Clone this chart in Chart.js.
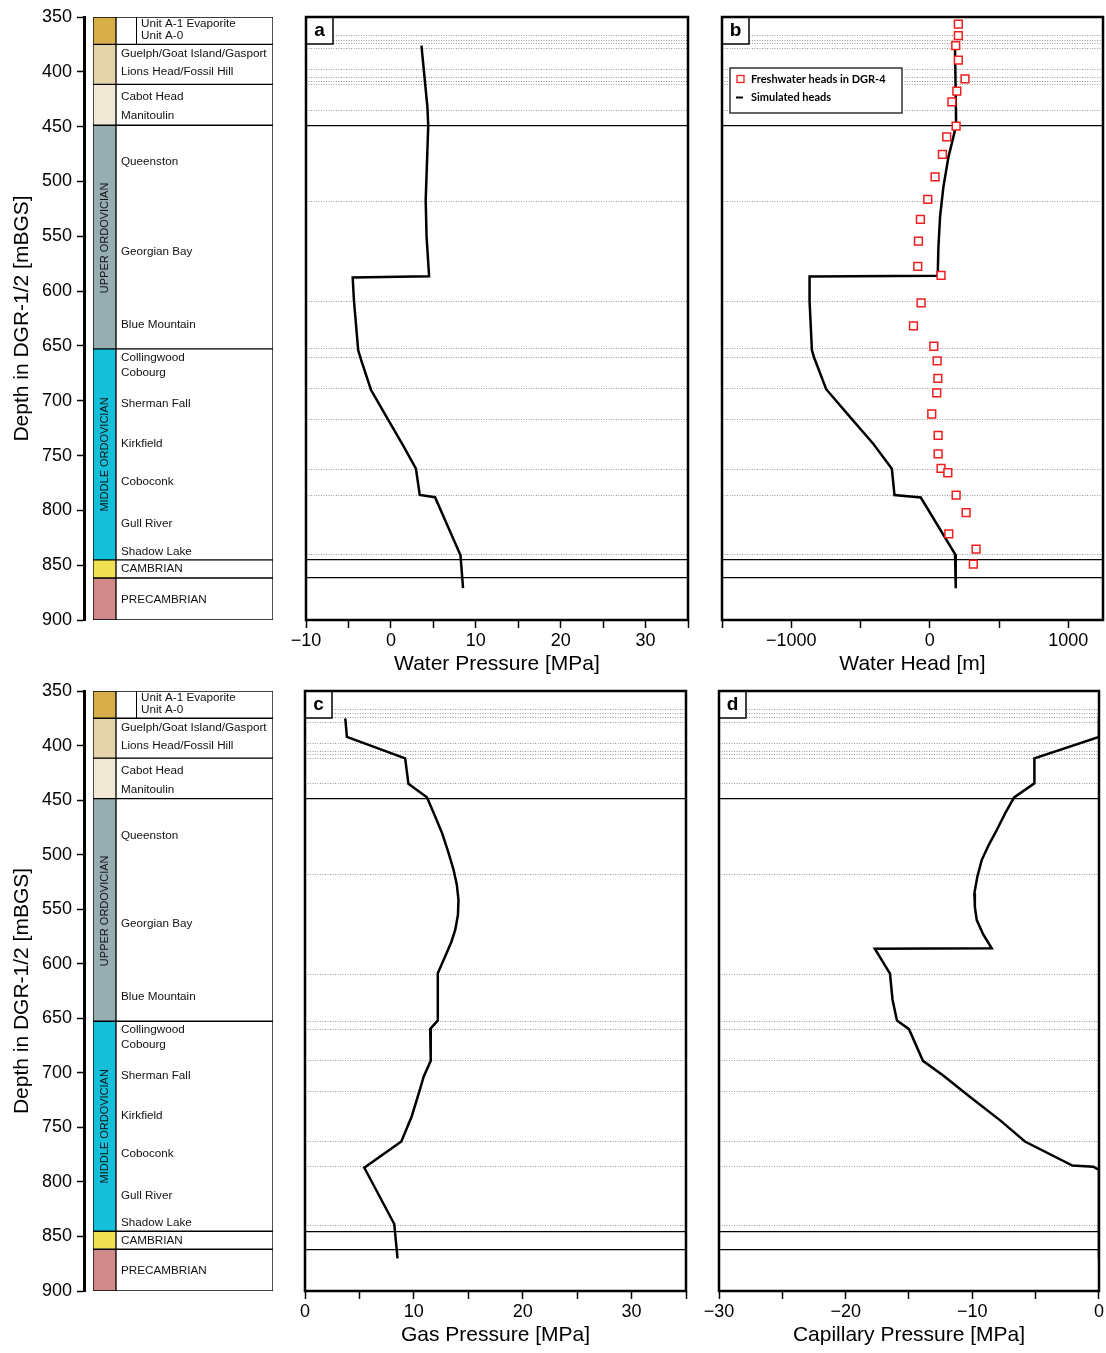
<!DOCTYPE html>
<html>
<head>
<meta charset="utf-8">
<script src="https://cdn.jsdelivr.net/npm/chart.js@4.4.1/dist/chart.umd.min.js"></script>
<style>
  html, body { margin: 0; padding: 0; background: #fff; }
  body { width: 1106px; height: 1353px; position: relative; overflow: hidden; }
  canvas { position: absolute; }
</style>
</head>
<body>
<script>
const FONT = "'Liberation Sans', Arial, Helvetica, sans-serif";
Chart.defaults.font.family = FONT;
Chart.defaults.color = '#000';
Chart.defaults.animation = false;

// depth axis
const depthMin = 350, depthMax = 900, depthStep = 50;

// stratigraphic units (strip colours + boxes)
const unitTops    = [350, 375, 411.5, 448.7, 652.7, 845.2, 861.7];
const unitBases   = [375, 411.5, 448.7, 652.7, 845.2, 861.7, 900];
const unitColors  = ['#D8AE48', '#E5D3AA', '#F1E8D6', '#96ADB2', '#13BFD9', '#EFE152', '#D2898A'];

const formationNames  = ['Unit A-1 Evaporite', 'Unit A-0', 'Guelph/Goat Island/Gasport', 'Lions Head/Fossil Hill',
  'Cabot Head', 'Manitoulin', 'Queenston', 'Georgian Bay', 'Blue Mountain', 'Collingwood', 'Cobourg',
  'Sherman Fall', 'Kirkfield', 'Coboconk', 'Gull River', 'Shadow Lake', 'CAMBRIAN', 'PRECAMBRIAN'];
const formationDepths = [356.4, 367.4, 383.8, 400.3, 422.8, 440.5, 482.5, 563.8, 630.5, 660.4, 674.1,
  702.4, 739.5, 774, 812.3, 837.7, 853.7, 881.5];

const periodNames  = ['UPPER ORDOVICIAN', 'MIDDLE ORDOVICIAN'];
const periodDepths = [551.5, 749];

// horizontal boundary lines in the panels
const dottedDepths = [367, 371, 374.5, 378.5, 398, 405, 408.5, 411.5, 435, 518.5, 609.5, 652.5, 660.5, 689, 717, 763, 786, 840];
const solidDepths  = [448.7, 845.2, 861.7];

// x tick positions (labels only on every other one)
const waterPresTicks = [-10, -5, 0, 5, 10, 15, 20, 25, 30, 35];
const waterHeadTicks = [-1500, -1000, -500, 0, 500, 1000];
const gasPresTicks   = [0, 5, 10, 15, 20, 25, 30, 35];
const capPresTicks   = [-30, -25, -20, -15, -10, -5, 0];

// a: water pressure [MPa]
const waterPresDepth = [376, 400, 432, 449, 517, 550, 586.5, 587.5, 609, 654, 663, 690, 715, 741, 762, 786, 788, 841, 871];
const waterPres      = [3.6, 3.9, 4.3, 4.4, 4.1, 4.2, 4.5, -4.5, -4.35, -3.85, -3.5, -2.35, -0.5, 1.45, 2.95, 3.4, 5.2, 8.2, 8.5];

// b: simulated heads [m]
const simHeadDepth = [379, 449, 478, 505, 532, 560, 586, 586.6, 609, 654, 661, 689.5, 715, 739.5, 762, 786, 788.3, 840, 871];
const simHead      = [182, 190, 134, 98, 74, 62, 57, -868, -868, -851, -834, -748, -575, -407, -274, -255, -65, 182, 187];

// b: freshwater heads in DGR-4 [m]
const obsHeadDepth = [356.4, 367, 376.2, 389.3, 406.4, 417.6, 427.4, 449.6, 459.4, 475.4, 495.9, 516.3, 534.6, 554.4,
  577.5, 585.7, 610.7, 631.7, 650.3, 663.7, 679.6, 692.9, 712.1, 731.6, 748.4, 761.8, 765.7, 786.1, 802, 821.5, 835.4, 849.1];
const obsHead      = [206, 206, 187, 206, 254, 195, 159, 190, 122, 91, 38, -15, -68, -82,
  -87, 81, -63, -118, 29, 53, 58, 50, 14, 60, 60, 81, 130, 190, 262, 137, 334, 314];

// c: gas pressure [MPa]
const gasPresDepth = [375, 392, 411.7, 435, 447.5, 463.7, 480.5, 497.3, 514, 527.8, 541.6, 555.3, 569, 579.8, 590.4,
  599.6, 608.8, 652, 659.8, 689, 703.5, 718.8, 740, 763, 787, 838.6, 870];
const gasPres      = [3.7, 3.85, 9.2, 9.5, 11.2, 11.9, 12.6, 13.15, 13.65, 13.95, 14.1, 14.05, 13.8, 13.45, 13.0,
  12.6, 12.2, 12.2, 11.5, 11.55, 10.9, 10.45, 9.8, 8.85, 5.45, 8.2, 8.5];

// d: capillary pressure [MPa]
const capPresDepth = [375, 392, 411.7, 434.6, 447.5, 462, 477.4, 491, 505, 520, 535.5, 548, 560, 573, 585.9, 586.2,
  609, 633, 652, 660, 689, 702.5, 722, 743.6, 763, 785, 786, 789, 870];
const capPres      = [0, 0, -5.1, -5.1, -6.7, -7.4, -8.07, -8.7, -9.26, -9.6, -9.84, -9.8, -9.65, -9.15, -8.47, -17.7,
  -16.5, -16.3, -15.95, -15.0, -13.9, -12.3, -10.2, -7.8, -5.85, -2.1, -0.45, 0, 0];

const toPoints = (xs, ys) => xs.map((x, i) => ({ x: x, y: ys[i] }));
const fmt = v => (v < 0 ? '\u2212' + Math.abs(v) : String(v));

function addCanvas(left, top, width, height) {
  const c = document.createElement('canvas');
  c.width = width; c.height = height;
  c.style.left = left + 'px'; c.style.top = top + 'px';
  c.style.width = width + 'px'; c.style.height = height + 'px';
  document.body.appendChild(c);
  return c.getContext('2d');
}

const noPlugins = { legend: { display: false }, tooltip: { enabled: false } };

// ---------- stratigraphic column ----------
function depthAxis(top, bottom) {
  const ctx = addCanvas(0, top - 17, 93, bottom - top + 37);
  new Chart(ctx, {
    type: 'scatter',
    data: { datasets: [{ data: [] }] },
    options: {
      responsive: false,
      layout: { padding: { top: 17, bottom: 20, left: 0, right: 0 } },
      plugins: noPlugins,
      scales: {
        x: { display: false },
        y: {
          min: depthMin, max: depthMax, reverse: true,
          afterFit: s => { s.width = 84; },
          ticks: { stepSize: depthStep, font: { size: 18 }, color: '#000', padding: 5 },
          grid: { drawOnChartArea: false, drawTicks: true, tickLength: 7, tickColor: '#000', tickWidth: 1.5 },
          border: { display: true, color: '#000', width: 3 },
          title: { display: true, text: 'Depth in DGR-1/2 [mBGS]', font: { size: 21 }, color: '#000', padding: { top: 10, bottom: 10 } }
        }
      }
    }
  });
}

const periodPlugin = {
  id: 'periods',
  afterDatasetsDraw(chart) {
    const { ctx, chartArea: a, scales: { y } } = chart;
    const cx = (a.left + a.right) / 2;
    ctx.save();
    ctx.font = '11px ' + FONT;
    ctx.fillStyle = '#111';
    ctx.textAlign = 'center';
    ctx.textBaseline = 'middle';
    periodNames.forEach((n, i) => {
      ctx.save();
      ctx.translate(cx + 0.5, y.getPixelForValue(periodDepths[i]));
      ctx.rotate(-Math.PI / 2);
      ctx.fillText(n, 0, 0);
      ctx.restore();
    });
    ctx.restore();
  }
};

const formationPlugin = {
  id: 'formations',
  afterDatasetsDraw(chart) {
    const { ctx, chartArea: a, scales: { y } } = chart;
    ctx.save();
    // small divider inside the Unit A box
    ctx.strokeStyle = '#000';
    ctx.lineWidth = 1;
    ctx.beginPath();
    ctx.moveTo(a.left + 20.5, y.getPixelForValue(unitTops[0]));
    ctx.lineTo(a.left + 20.5, y.getPixelForValue(unitBases[0]));
    ctx.stroke();
    ctx.font = '11.7px ' + FONT;
    ctx.fillStyle = '#111';
    ctx.textBaseline = 'middle';
    formationNames.forEach((n, i) => {
      const d = formationDepths[i];
      const x = a.left + (d < unitBases[0] ? 25 : 5);
      ctx.fillText(n, x, y.getPixelForValue(d));
    });
    ctx.restore();
  }
};

function unitColumn(left, width, top, bottom, colors, plugin) {
  const ctx = addCanvas(left, top - 17, width, bottom - top + 37);
  new Chart(ctx, {
    type: 'bar',
    data: {
      labels: ['unit'],
      datasets: unitTops.map((t, i) => ({
        data: [[t, unitBases[i]]],
        backgroundColor: colors[i],
        borderColor: '#000',
        borderWidth: 1,
        borderSkipped: false,
        grouped: false,
        barPercentage: 1,
        categoryPercentage: 1
      }))
    },
    options: {
      responsive: false,
      layout: { padding: { top: 17, bottom: 20, left: 0, right: 0 } },
      plugins: noPlugins,
      scales: {
        x: { display: false },
        y: { display: false, min: depthMin, max: depthMax, reverse: true }
      }
    },
    plugins: [plugin]
  });
}

// ---------- data panels ----------
function framePlugin(letter) {
  return {
    id: 'frame',
    afterDatasetsDraw(chart) {
      const { ctx, chartArea: a } = chart;
      ctx.save();
      ctx.fillStyle = '#fff';
      ctx.fillRect(a.left, a.top, 27, 27);
      ctx.strokeStyle = '#000';
      ctx.lineWidth = 1.5;
      ctx.strokeRect(a.left, a.top, 27, 27);
      ctx.font = 'bold 19px ' + FONT;
      ctx.fillStyle = '#000';
      ctx.textAlign = 'center';
      ctx.textBaseline = 'middle';
      ctx.fillText(letter, a.left + 13.5, a.top + 14);
      ctx.lineWidth = 2.5;
      ctx.strokeRect(a.left, a.top, a.right - a.left, a.bottom - a.top);
      ctx.restore();
    }
  };
}

const headLegend = {
  id: 'headLegend',
  afterDatasetsDraw(chart) {
    const { ctx, chartArea: a } = chart;
    const ds = chart.data.datasets;
    const x0 = a.left + 8, y0 = a.top + 51, w = 172, h = 45;
    ctx.save();
    ctx.fillStyle = '#fff';
    ctx.fillRect(x0, y0, w, h);
    ctx.strokeStyle = '#333';
    ctx.lineWidth = 1.5;
    ctx.strokeRect(x0, y0, w, h);
    ctx.font = 'bold 11px Lato, ' + FONT;
    ctx.textBaseline = 'middle';
    // markers
    ctx.strokeStyle = ds[0].borderColor;
    ctx.lineWidth = 1.3;
    ctx.strokeRect(x0 + 7, y0 + 7.5, 7, 7);
    ctx.strokeStyle = ds[1].borderColor;
    ctx.lineWidth = 2;
    ctx.beginPath();
    ctx.moveTo(x0 + 6, y0 + 29.5);
    ctx.lineTo(x0 + 13, y0 + 29.5);
    ctx.stroke();
    ctx.fillStyle = '#000';
    ctx.fillText(ds[0].label, x0 + 21, y0 + 11.5);
    ctx.fillText(ds[1].label, x0 + 21, y0 + 29);
    ctx.restore();
  }
};

function profileLine(label, xs, depths) {
  return {
    label: label,
    data: toPoints(xs, depths),
    showLine: true,
    borderColor: '#000',
    borderWidth: 2.5,
    pointRadius: 0,
    tension: 0,
    borderJoinStyle: 'miter'
  };
}

function panel(o) {
  const padL = 40;
  const ctx = addCanvas(o.left - padL, o.top - 17, o.right - o.left + padL + o.padR, o.bottom - o.top + 77);
  new Chart(ctx, {
    type: 'scatter',
    data: { datasets: o.datasets },
    options: {
      responsive: false,
      layout: { padding: { left: padL, right: o.padR, top: 17, bottom: 0 } },
      plugins: noPlugins,
      scales: {
        x: {
          type: 'linear', position: 'bottom', min: o.xMin, max: o.xMax,
          afterBuildTicks: s => { s.ticks = o.ticks.map(v => ({ value: v })); },
          afterFit: s => { s.height = 60; },
          ticks: {
            autoSkip: false, maxRotation: 0,
            font: { size: 18 }, color: '#000', padding: 2,
            callback: v => (v % o.labelStep === 0 ? fmt(v) : '')
          },
          grid: { drawOnChartArea: false, drawTicks: true, tickLength: 8, tickColor: '#000', tickWidth: 1.5 },
          border: { display: false },
          title: { display: true, text: o.title, font: { size: 21 }, color: '#000', padding: { top: 0, bottom: 3 } }
        },
        y: {
          type: 'linear', position: 'left', min: depthMin, max: depthMax, reverse: true,
          afterBuildTicks: s => { s.ticks = dottedDepths.map(v => ({ value: v })); },
          afterFit: s => { s.width = 0; },
          ticks: { display: false },
          grid: { color: '#9a9a9a', lineWidth: 1, drawTicks: false },
          border: { display: false, dash: [1, 1.5] }
        },
        ySolid: {
          type: 'linear', position: 'left', min: depthMin, max: depthMax, reverse: true,
          afterBuildTicks: s => { s.ticks = solidDepths.map(v => ({ value: v })); },
          afterFit: s => { s.width = 0; },
          ticks: { display: false },
          grid: { color: '#000', lineWidth: 1.3, drawTicks: false },
          border: { display: false }
        }
      }
    },
    plugins: [framePlugin(o.letter)].concat(o.extra || [])
  });
}

// ---------- layout ----------
const rowBounds = [[17, 620], [691, 1291]];
rowBounds.forEach(([top, bottom]) => {
  depthAxis(top, bottom);
  unitColumn(93, 23, top, bottom, unitColors, periodPlugin);
  unitColumn(116, 157, top, bottom, unitColors.map(() => '#fff'), formationPlugin);
});

panel({
  left: 306, right: 688, padR: 18, top: 17, bottom: 620, letter: 'a',
  xMin: -10, xMax: 35, ticks: waterPresTicks, labelStep: 10, title: 'Water Pressure [MPa]',
  datasets: [profileLine('Water pressure', waterPres, waterPresDepth)]
});

panel({
  left: 722, right: 1103, padR: 10, top: 17, bottom: 620, letter: 'b',
  xMin: -1500, xMax: 1250, ticks: waterHeadTicks, labelStep: 1000, title: 'Water Head [m]',
  datasets: [
    {
      label: 'Freshwater heads in DGR-4',
      data: toPoints(obsHead, obsHeadDepth),
      pointStyle: 'rect',
      pointRadius: 5.5,
      pointBorderWidth: 1.5,
      borderColor: '#F21D1D',
      pointBorderColor: '#F21D1D',
      pointBackgroundColor: '#fff',
      showLine: false
    },
    profileLine('Simulated heads', simHead, simHeadDepth)
  ],
  extra: [headLegend]
});

panel({
  left: 305, right: 686, padR: 20, top: 691, bottom: 1291, letter: 'c',
  xMin: 0, xMax: 35, ticks: gasPresTicks, labelStep: 10, title: 'Gas Pressure [MPa]',
  datasets: [profileLine('Gas pressure', gasPres, gasPresDepth)]
});

panel({
  left: 719, right: 1099, padR: 7, top: 691, bottom: 1291, letter: 'd',
  xMin: -30, xMax: 0, ticks: capPresTicks, labelStep: 10, title: 'Capillary Pressure [MPa]',
  datasets: [profileLine('Capillary pressure', capPres, capPresDepth)]
});
</script>
</body>
</html>
